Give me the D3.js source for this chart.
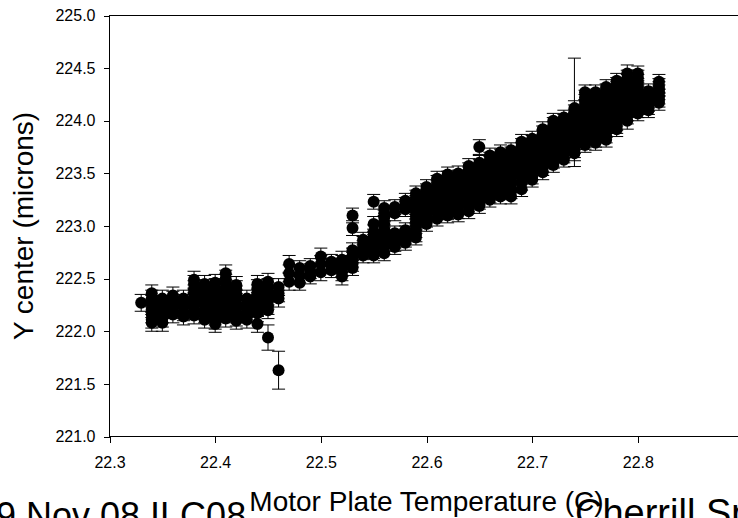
<!DOCTYPE html>
<html>
<head>
<meta charset="utf-8">
<script src="https://cdn.jsdelivr.net/npm/d3@7"></script>
<style>
  html, body { margin: 0; padding: 0; background: #fff; overflow: hidden; }
  svg { display: block; }
  text { font-family: "Liberation Sans", Arial, sans-serif; fill: #000; }
</style>
</head>
<body>
<svg id="chart" width="738" height="518"></svg>
<script>
// ---- data ----
const temperatureColumns = [
  22.33, 22.34, 22.35, 22.36, 22.37, 22.38, 22.39, 22.40, 22.41, 22.42,
  22.43, 22.44, 22.45, 22.46, 22.47, 22.48, 22.49, 22.50, 22.51, 22.52,
  22.53, 22.54, 22.55, 22.56, 22.57, 22.58, 22.59, 22.60, 22.61, 22.62,
  22.63, 22.64, 22.65, 22.66, 22.67, 22.68, 22.69, 22.70, 22.71, 22.72,
  22.73, 22.74, 22.75, 22.76, 22.77, 22.78, 22.79, 22.80, 22.81, 22.82
];
const yCenterColumns = [
  [222.27],
  [222.36, 222.31, 222.26, 222.21, 222.16, 222.11, 222.08],
  [222.31, 222.26, 222.21, 222.16, 222.12, 222.08],
  [222.34, 222.30, 222.25, 222.20, 222.16],
  [222.31, 222.27, 222.23, 222.18, 222.14],
  [222.49, 222.45, 222.40, 222.36, 222.32, 222.28, 222.24, 222.19, 222.15],
  [222.45, 222.41, 222.37, 222.33, 222.29, 222.25, 222.20, 222.16, 222.11],
  [222.46, 222.42, 222.38, 222.34, 222.30, 222.26, 222.22, 222.18, 222.14, 222.10, 222.07],
  [222.55, 222.50, 222.46, 222.41, 222.37, 222.33, 222.28, 222.24, 222.20, 222.16, 222.12],
  [222.44, 222.40, 222.35, 222.31, 222.26, 222.22, 222.17, 222.13, 222.10],
  [222.31, 222.26, 222.21, 222.16, 222.11],
  [222.45, 222.41, 222.36, 222.32, 222.27, 222.22, 222.17, 222.07],
  [222.47, 222.42, 222.38, 222.33, 222.29, 222.24, 222.20],
  [222.42, 222.36, 222.31],
  [222.64, 222.55, 222.47],
  [222.60, 222.53, 222.46],
  [222.62, 222.57, 222.52],
  [222.71, 222.64, 222.56],
  [222.66, 222.62, 222.58],
  [222.68, 222.64, 222.60, 222.56, 222.52],
  [223.10, 222.98, 222.77, 222.72, 222.68, 222.64, 222.60],
  [222.87, 222.83, 222.79, 222.75, 222.72],
  [223.23, 223.02, 222.94, 222.90, 222.85, 222.80, 222.76, 222.72],
  [223.17, 223.12, 223.08, 223.02, 222.97, 222.92, 222.88, 222.84, 222.80, 222.74],
  [223.18, 223.12, 222.93, 222.89, 222.86, 222.83, 222.80],
  [223.24, 223.20, 223.16, 222.96, 222.93, 222.90, 222.87, 222.84],
  [223.31, 223.27, 223.22, 223.18, 223.13, 223.09, 223.04, 223.00, 222.96, 222.92, 222.89],
  [223.37, 223.33, 223.28, 223.24, 223.19, 223.15, 223.10, 223.06, 223.02],
  [223.45, 223.41, 223.36, 223.32, 223.27, 223.22, 223.18, 223.13, 223.07],
  [223.49, 223.45, 223.41, 223.37, 223.33, 223.29, 223.25, 223.21, 223.17, 223.13, 223.10],
  [223.50, 223.46, 223.42, 223.38, 223.34, 223.30, 223.26, 223.22, 223.18, 223.14, 223.11],
  [223.57, 223.53, 223.49, 223.45, 223.41, 223.37, 223.33, 223.28, 223.24, 223.19, 223.14],
  [223.75, 223.60, 223.56, 223.51, 223.47, 223.43, 223.39, 223.35, 223.31, 223.27, 223.23, 223.19],
  [223.67, 223.63, 223.59, 223.55, 223.51, 223.47, 223.43, 223.38, 223.34, 223.29, 223.25],
  [223.70, 223.66, 223.62, 223.58, 223.54, 223.50, 223.46, 223.41, 223.37, 223.32, 223.28],
  [223.72, 223.68, 223.64, 223.60, 223.56, 223.52, 223.48, 223.43, 223.39, 223.33, 223.28],
  [223.80, 223.76, 223.72, 223.68, 223.64, 223.60, 223.56, 223.51, 223.47, 223.41, 223.35],
  [223.83, 223.79, 223.75, 223.71, 223.67, 223.63, 223.59, 223.55, 223.51, 223.47, 223.44],
  [223.92, 223.88, 223.84, 223.80, 223.76, 223.72, 223.68, 223.63, 223.59, 223.55, 223.51],
  [224.00, 223.96, 223.92, 223.88, 223.84, 223.80, 223.76, 223.71, 223.67, 223.62, 223.58],
  [224.03, 223.99, 223.95, 223.91, 223.87, 223.83, 223.79, 223.75, 223.71, 223.67, 223.63],
  [224.12, 224.08, 224.04, 224.00, 223.96, 223.92, 223.88, 223.84, 223.80, 223.76, 223.72, 223.69],
  [224.27, 224.22, 224.18, 224.13, 224.09, 224.05, 224.00, 223.96, 223.92, 223.88, 223.84, 223.80, 223.77],
  [224.27, 224.23, 224.19, 224.14, 224.10, 224.06, 224.02, 223.98, 223.94, 223.90, 223.86, 223.82, 223.79],
  [224.32, 224.28, 224.24, 224.20, 224.16, 224.12, 224.08, 224.04, 224.00, 223.95, 223.91, 223.86, 223.82],
  [224.38, 224.34, 224.30, 224.26, 224.22, 224.18, 224.14, 224.10, 224.06, 224.02, 223.98, 223.95, 223.92],
  [224.45, 224.40, 224.36, 224.32, 224.28, 224.24, 224.20, 224.16, 224.12, 224.08, 224.05, 224.00],
  [224.45, 224.41, 224.37, 224.33, 224.29, 224.25, 224.21, 224.17, 224.14, 224.10, 224.07],
  [224.28, 224.25, 224.22, 224.19, 224.16, 224.13, 224.10],
  [224.37, 224.33, 224.30, 224.27, 224.23, 224.20, 224.17]
];
// typical error-bar half-length for each column (microns)
const yErrorColumns = [
  0.08, 0.08, 0.08, 0.08, 0.08, 0.08, 0.08, 0.08, 0.08, 0.08,
  0.08, 0.08, 0.08, 0.08, 0.08, 0.07, 0.07, 0.08, 0.07, 0.08,
  0.07, 0.07, 0.07, 0.07, 0.07, 0.07, 0.07, 0.07, 0.07, 0.07,
  0.07, 0.07, 0.07, 0.07, 0.07, 0.07, 0.07, 0.07, 0.07, 0.07,
  0.07, 0.07, 0.07, 0.07, 0.07, 0.07, 0.08, 0.07, 0.07, 0.07
];
// points with visibly larger error bars
const wideErrTemps = [22.45, 22.46, 22.74];
const wideErrCenters = [221.94, 221.63, 224.08];
const wideErrHalf = [0.12, 0.18, 0.515];

const xTickValues = [22.3, 22.4, 22.5, 22.6, 22.7, 22.8];
const yTickValues = [221.0, 221.5, 222.0, 222.5, 223.0, 223.5, 224.0, 224.5, 225.0];
const xTitle = "Motor Plate Temperature (C)";
const yTitle = "Y center (microns)";
const footLeft = "9 Nov 08 ILC08";
const footRight = "Cherrill Spencer";

// ---- build point table ----
const points = [];
temperatureColumns.forEach((t, i) => {
  yCenterColumns[i].forEach(v => points.push({ t, v, e: yErrorColumns[i] }));
});
wideErrTemps.forEach((t, i) => points.push({ t, v: wideErrCenters[i], e: wideErrHalf[i] }));

// ---- layout ----
const svg = d3.select("#chart");
const plotL = 109.5, plotR = 743.5, plotT = 15.5, plotB = 436.5;
const xs = d3.scaleLinear().domain([22.3, 22.9]).range([plotL, plotR]);
const ys = d3.scaleLinear().domain([221, 225]).range([plotB, plotT]);
const FONT = '"Liberation Sans", Arial, sans-serif';

// frame
svg.append("rect")
  .attr("x", plotL).attr("y", plotT)
  .attr("width", plotR - plotL).attr("height", plotB - plotT)
  .attr("fill", "none").attr("stroke", "#000").attr("stroke-width", 1)
  .attr("shape-rendering", "crispEdges");

// axes
const yAxis = d3.axisLeft(ys).tickValues(yTickValues).tickFormat(d3.format(".1f"))
  .tickSize(6).tickSizeOuter(0).tickPadding(8);
const gy = svg.append("g").attr("transform", `translate(${plotL},0)`).call(yAxis);
gy.select(".domain").remove();
gy.selectAll("text").style("font-size", "16px").style("font-family", FONT).attr("fill", "#000");
gy.selectAll("line").attr("stroke", "#000").attr("shape-rendering", "crispEdges");

const xAxis = d3.axisBottom(xs).tickValues(xTickValues).tickFormat(d3.format(".1f"))
  .tickSize(6).tickSizeOuter(0).tickPadding(14);
const gx = svg.append("g").attr("transform", `translate(0,${plotB})`).call(xAxis);
gx.select(".domain").remove();
gx.selectAll("text").style("font-size", "16px").style("font-family", FONT).attr("fill", "#000");
gx.selectAll("line").attr("stroke", "#000").attr("shape-rendering", "crispEdges");

// error bars
const capHalf = 6.5;
const eb = svg.append("g").attr("stroke", "#000").attr("stroke-width", 1);
points.forEach(p => {
  const cx = xs(p.t), y1 = ys(p.v + p.e), y2 = ys(p.v - p.e);
  eb.append("line").attr("x1", cx).attr("x2", cx).attr("y1", y1).attr("y2", y2);
  eb.append("line").attr("x1", cx - capHalf).attr("x2", cx + capHalf).attr("y1", y1).attr("y2", y1);
  eb.append("line").attr("x1", cx - capHalf).attr("x2", cx + capHalf).attr("y1", y2).attr("y2", y2);
});

// markers
svg.append("g").selectAll("circle").data(points).join("circle")
  .attr("cx", d => xs(d.t)).attr("cy", d => ys(d.v)).attr("r", 6)
  .attr("fill", "#000");

// titles
svg.append("text").attr("x", (plotL + plotR) / 2).attr("y", 511)
  .attr("text-anchor", "middle").style("font-size", "28px").text(xTitle);
svg.append("text").attr("transform", `translate(33,${(plotT + plotB) / 2}) rotate(-90)`)
  .attr("text-anchor", "middle").style("font-size", "28px").text(yTitle);

// footer texts (cut by the page edge, as in the reference)
svg.append("text").attr("x", -4).attr("y", 527.5).style("font-size", "36px").text(footLeft);
svg.append("text").attr("x", 575).attr("y", 526).style("font-size", "38px").text(footRight);
</script>
</body>
</html>
